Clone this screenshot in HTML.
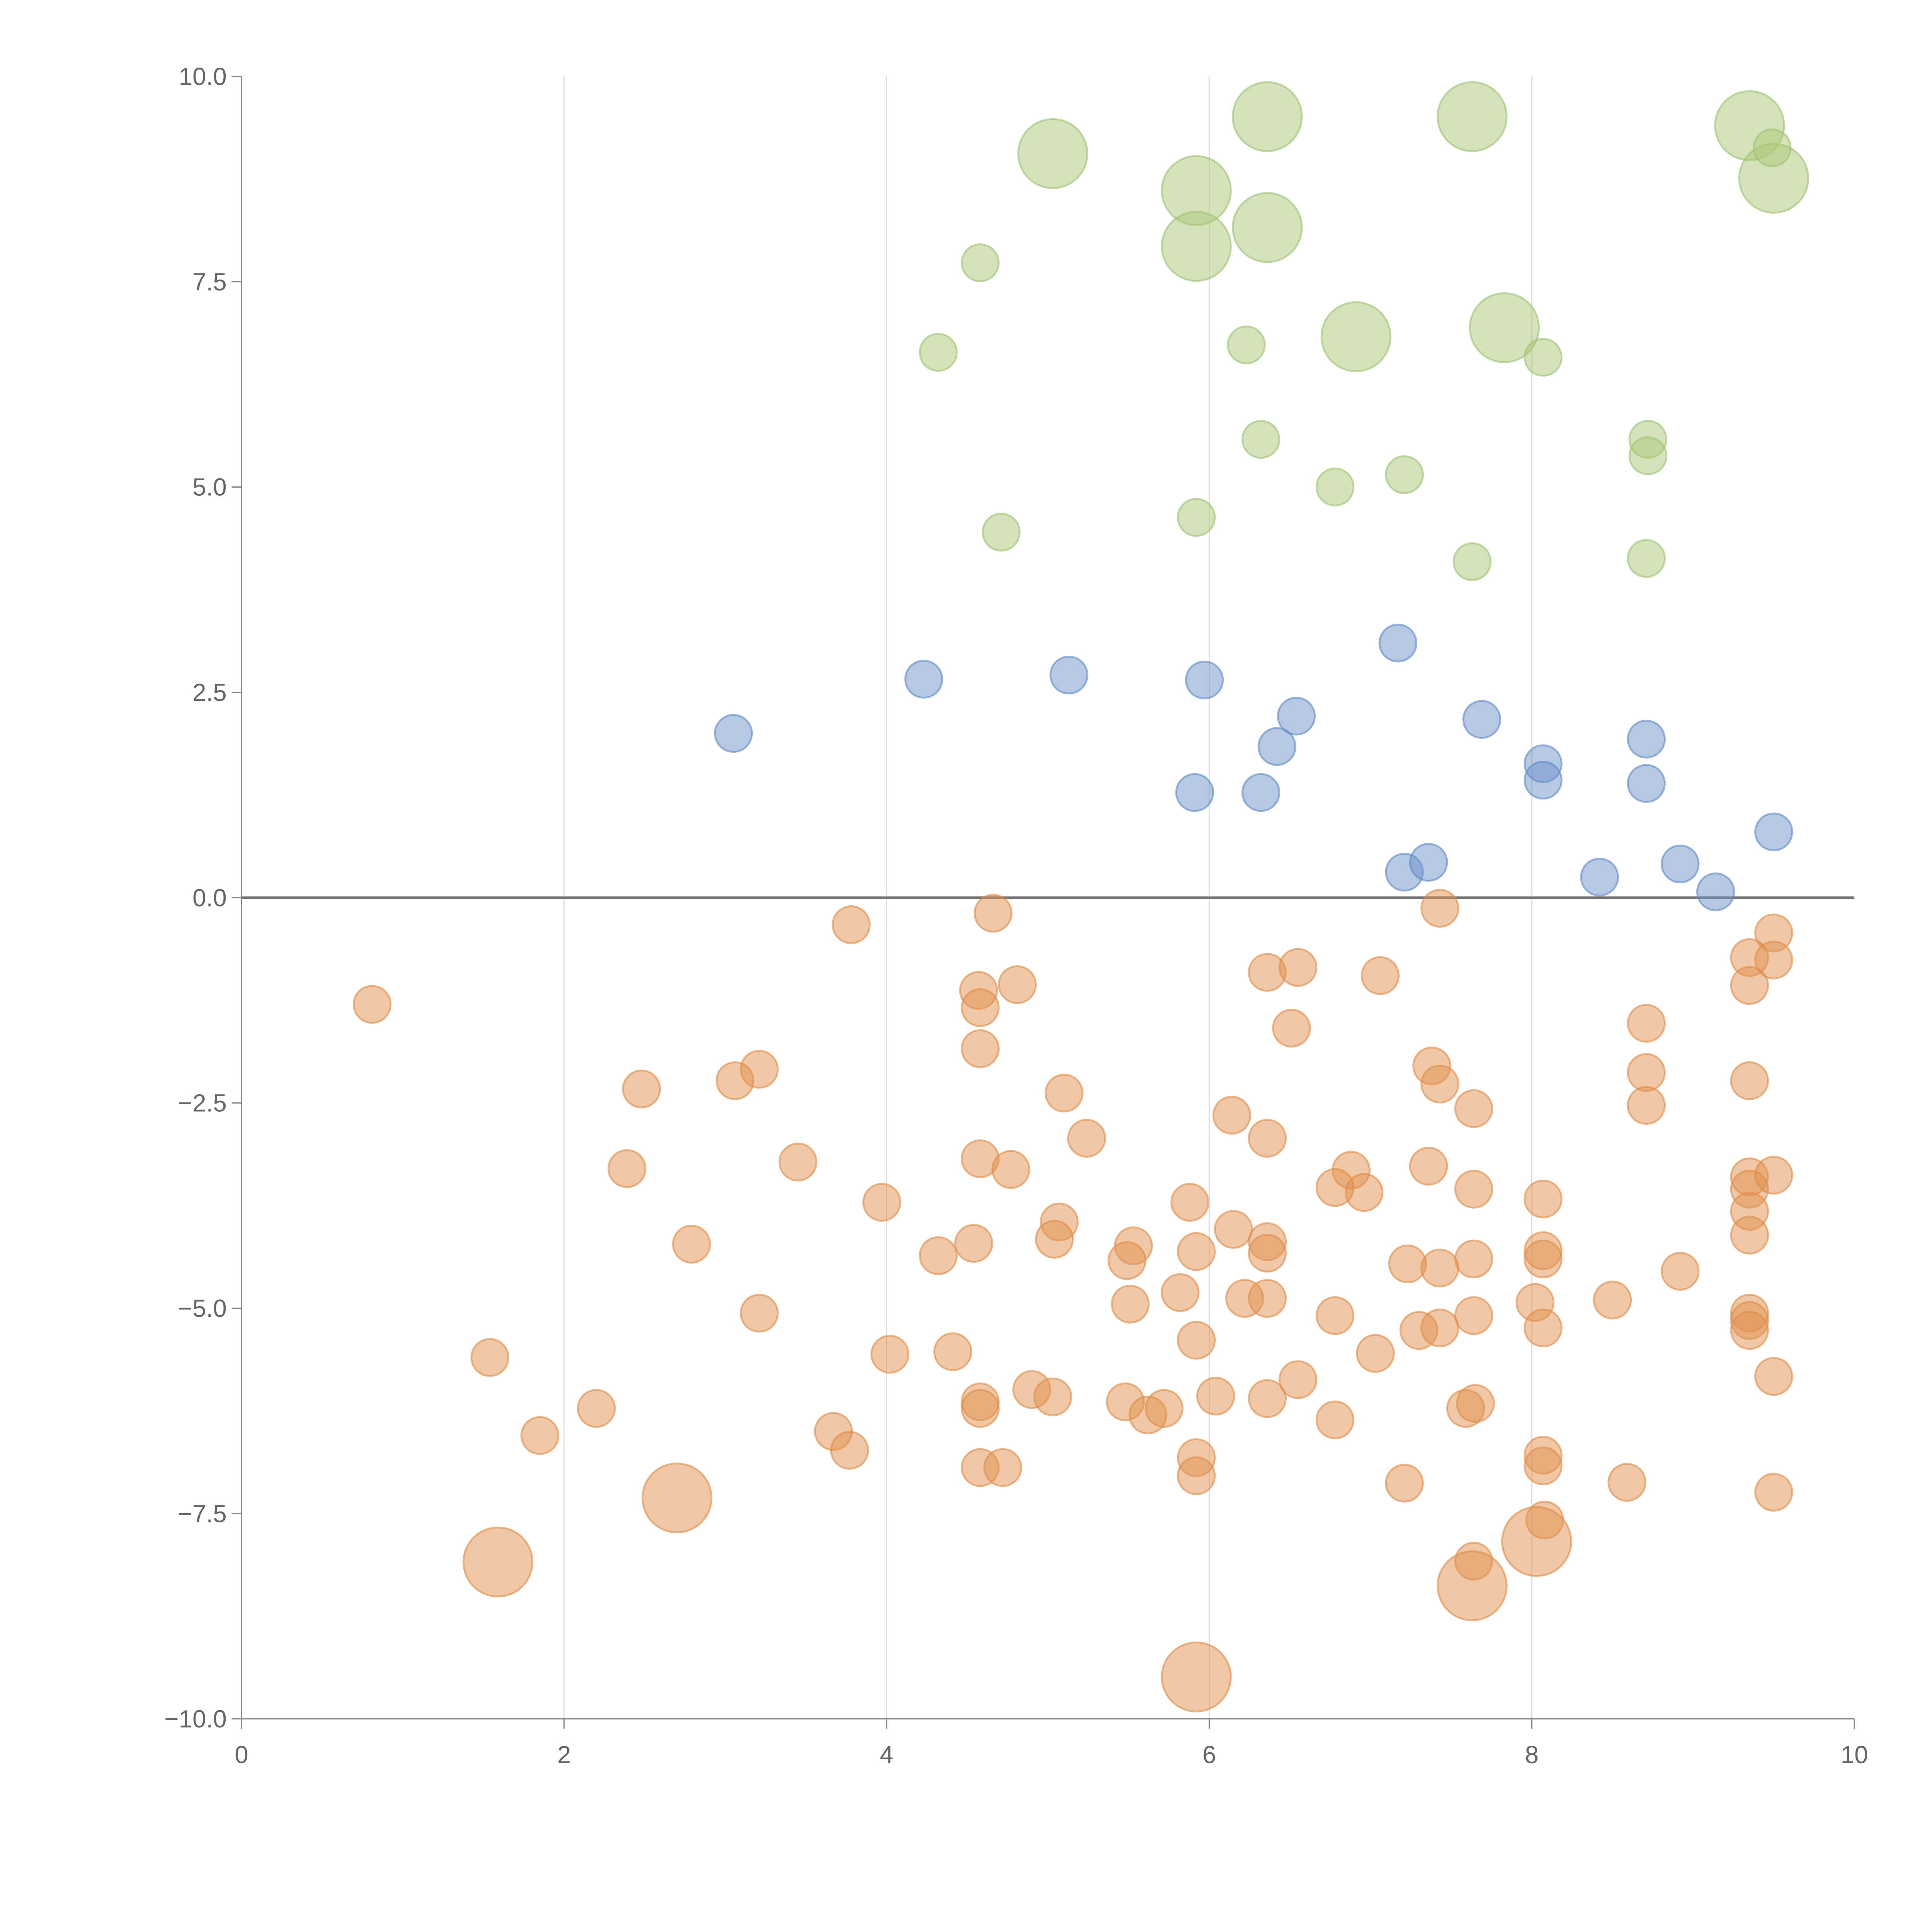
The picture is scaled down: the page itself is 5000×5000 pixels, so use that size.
<!DOCTYPE html>
<html><head><meta charset="utf-8"><style>
html,body{margin:0;padding:0;background:#fff;}
svg{display:block;}
text{font-family:"Liberation Sans",sans-serif;fill:#666;font-size:20px;}
</style></head><body>
<svg id="chart" width="5000" height="5000" viewBox="0 0 1568 1568" xmlns="http://www.w3.org/2000/svg">
<g id="grid"></g>
<g id="axes"></g>
<g id="marks"></g>
</svg>
<script>
const xTicks=[0,2,4,6,8,10];
const yTicks=[-10,-7.5,-5,-2.5,0,2.5,5,7.5,10];
const yTickLabels=["\u221210.0","\u22127.5","\u22125.0","\u22122.5","0.0","2.5","5.0","7.5","10.0"];
const greenX=[5.03,5.92,5.92,6.36,6.36,7.63,6.91,7.83,9.35,9.50,9.49,4.58,4.32,6.23,8.07,6.32,8.72,8.72,7.21,6.78,5.92,4.71,7.63,8.71];
const greenY=[9.06,8.61,7.93,9.51,8.16,9.51,6.83,6.94,9.40,8.76,9.13,7.73,6.64,6.73,6.58,5.58,5.58,5.38,5.15,5.00,4.63,4.45,4.09,4.13];
const greenSize=[2,2,2,2,2,2,2,2,2,2,1,1,1,1,1,1,1,1,1,1,1,1,1,1];
const blueX=[3.05,4.23,5.13,5.97,7.17,6.54,6.42,7.69,5.91,6.32,8.07,8.07,8.71,8.71,9.50,7.21,7.36,8.42,8.92,9.14];
const blueY=[2.00,2.66,2.71,2.65,3.10,2.21,1.84,2.17,1.28,1.28,1.63,1.43,1.93,1.39,0.80,0.31,0.43,0.25,0.41,0.07];
const orangeX=[0.81,3.78,4.66,7.43,9.50,9.35,9.50,9.35,6.36,6.55,7.06,4.57,4.58,4.81,4.58,6.51,8.71,8.71,8.71,9.35,7.38,7.43,7.64,3.21,3.06,2.48,5.10,5.24,6.14,6.36,2.39,3.45,4.58,4.77,6.88,6.96,6.78,7.36,7.64,9.35,9.35,9.50,9.35,9.35,3.97,5.88,8.07,6.15,5.07,5.04,4.54,4.32,2.79,5.53,5.49,5.92,6.36,6.36,7.23,7.43,7.64,8.07,8.07,8.92,5.82,5.51,6.22,6.36,8.02,8.50,3.21,6.78,7.64,9.35,9.35,9.35,7.30,7.43,8.07,5.92,1.54,4.02,4.41,7.03,9.50,6.55,4.90,5.03,4.58,4.58,5.48,5.62,5.72,6.04,6.36,7.59,7.65,2.20,1.85,3.67,3.77,6.78,5.92,5.92,4.58,4.72,8.07,8.07,7.21,8.59,9.50,8.08,7.64,2.70,1.59,8.03,7.63,5.92];
const orangeY=[-1.30,-0.33,-0.19,-0.13,-0.43,-0.73,-0.76,-1.07,-0.91,-0.85,-0.95,-1.13,-1.34,-1.06,-1.84,-1.59,-1.53,-2.13,-2.53,-2.23,-2.05,-2.27,-2.57,-2.09,-2.23,-2.33,-2.38,-2.93,-2.65,-2.93,-3.30,-3.22,-3.18,-3.31,-3.32,-3.59,-3.53,-3.27,-3.55,-3.40,-3.55,-3.38,-3.82,-4.11,-3.71,-3.71,-3.67,-4.04,-3.95,-4.16,-4.21,-4.36,-4.22,-4.24,-4.42,-4.31,-4.19,-4.33,-4.46,-4.51,-4.40,-4.30,-4.40,-4.55,-4.81,-4.95,-4.88,-4.88,-4.93,-4.90,-5.06,-5.09,-5.09,-5.06,-5.15,-5.27,-5.27,-5.24,-5.24,-5.39,-5.60,-5.56,-5.53,-5.55,-5.83,-5.87,-5.99,-6.08,-6.14,-6.22,-6.14,-6.30,-6.22,-6.07,-6.10,-6.22,-6.16,-6.22,-6.55,-6.50,-6.73,-6.36,-6.82,-7.04,-6.94,-6.94,-6.79,-6.92,-7.13,-7.12,-7.24,-7.58,-8.08,-7.31,-8.09,-7.84,-8.38,-9.49];

const NS="http://www.w3.org/2000/svg";
const X0=196,X1=1505,Y0=1395,Y1=62;
function sx(v){return X0+(v-0)/(10-0)*(X1-X0);}
function sy(v){return Y0-(v+10)/20*(Y0-Y1);}
function mk(tag,attrs,parent){const e=document.createElementNS(NS,tag);for(const k in attrs)e.setAttribute(k,attrs[k]);parent.appendChild(e);return e;}
const grid=document.getElementById('grid'),axes=document.getElementById('axes'),marks=document.getElementById('marks');
xTicks.forEach(t=>{if(t>0&&t<10){const l=mk('line',{x1:sx(t),x2:sx(t),y1:Y1,y2:Y0,stroke:'#ddd','stroke-width':1},grid);

}});
mk('line',{x1:X0,x2:X0,y1:Y1,y2:Y0,stroke:'#888','stroke-width':1},axes);
mk('line',{x1:X0,x2:X1,y1:Y0,y2:Y0,stroke:'#888','stroke-width':1},axes);
const zl=mk('line',{x1:X0,x2:X1,y1:sy(0),y2:sy(0),stroke:'#777','stroke-width':2},axes);


yTicks.forEach((t,i)=>{mk('line',{x1:X0-8,x2:X0,y1:sy(t),y2:sy(t),stroke:'#888'},axes);
const tx=mk('text',{x:X0-12,y:sy(t)+7,'text-anchor':'end'},axes);tx.textContent=yTickLabels[i];

});
xTicks.forEach(t=>{mk('line',{x1:sx(t),x2:sx(t),y1:Y0,y2:Y0+8,stroke:'#888'},axes);
const tx=mk('text',{x:sx(t),y:Y0+36,'text-anchor':'middle'},axes);tx.textContent=String(t);

});
function dot(x,y,r,fill,stroke,name){const c=mk('circle',{cx:sx(x),cy:sy(y),r:r,fill:fill,'fill-opacity':0.5,stroke:stroke,'stroke-opacity':0.6,'stroke-width':1.5},marks);

}
greenX.forEach((x,i)=>dot(x,greenY[i],greenSize[i]===2?28:15,'#abc877','#9dbf6f','green-bubble'));
blueX.forEach((x,i)=>dot(x,blueY[i],15,'#6b92c9','#5f88c4','blue-bubble'));
orangeX.forEach((x,i)=>{const big=(i>=orangeX.length-5);dot(x,orangeY[i],big?28:15,'#e29250','#e08a45','orange-bubble');});
</script>
</body></html>
